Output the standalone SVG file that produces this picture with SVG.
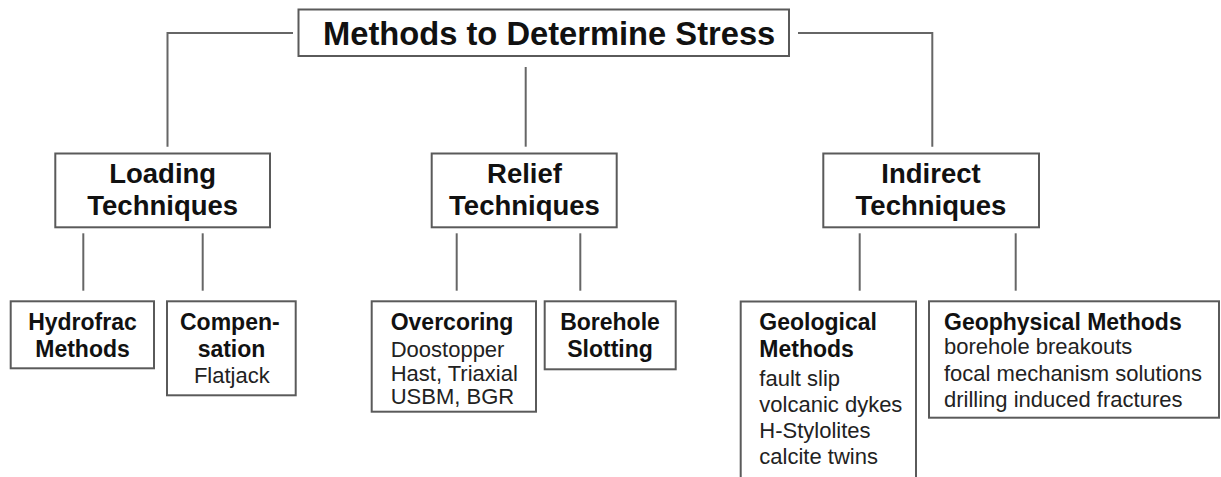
<svg xmlns="http://www.w3.org/2000/svg" width="1221" height="477" viewBox="0 0 1221 477">
<style>
.box{fill:#fff;stroke:#5a5a5a;stroke-width:2}
.ln{fill:none;stroke:#666;stroke-width:2}
.t{font-family:"Liberation Sans",Arial,sans-serif;fill:#111}
.h1{font-size:32.7px;font-weight:bold}
.h2{font-size:27.5px;font-weight:bold;text-anchor:middle}
.b{font-size:23px;font-weight:bold}
.r{font-size:22px;fill:#222}
.c{text-anchor:middle}
</style>
<rect width="1221" height="477" fill="#fff"/>
<g id="connectors">
<polyline class="ln" points="293,33 167.5,33 167.5,146.7"/>
<polyline class="ln" points="798,33 932.3,33 932.3,146.7"/>
<line class="ln" x1="525.7" y1="67" x2="525.7" y2="146.7"/>
<line class="ln" x1="83.3" y1="233.3" x2="83.3" y2="290.7"/>
<line class="ln" x1="202.7" y1="233.3" x2="202.7" y2="290.7"/>
<line class="ln" x1="456.7" y1="233.3" x2="456.7" y2="290.7"/>
<line class="ln" x1="580.3" y1="233.3" x2="580.3" y2="290.7"/>
<line class="ln" x1="859.7" y1="233.3" x2="859.7" y2="290.7"/>
<line class="ln" x1="1015.7" y1="233.3" x2="1015.7" y2="290.7"/>
</g>
<g id="root">
<rect class="box" x="298.5" y="9.5" width="490.5" height="46.5"/>
<text class="t h1" x="323" y="45">Methods to Determine Stress</text>
</g>
<g id="loading">
<rect class="box" x="55.3" y="153.5" width="214.7" height="73.8"/>
<text class="t h2" x="162.7" y="182.7">Loading</text>
<text class="t h2" x="162.7" y="215">Techniques</text>
</g>
<g id="relief">
<rect class="box" x="431.7" y="153.5" width="185" height="73.8"/>
<text class="t h2" x="524.5" y="182.7">Relief</text>
<text class="t h2" x="524.5" y="215">Techniques</text>
</g>
<g id="indirect">
<rect class="box" x="823.3" y="153.5" width="215.7" height="73.8"/>
<text class="t h2" x="931" y="182.7">Indirect</text>
<text class="t h2" x="931" y="215">Techniques</text>
</g>
<g id="hydrofrac">
<rect class="box" x="10.7" y="301.3" width="143.3" height="67"/>
<text class="t b c" x="82.5" y="330">Hydrofrac</text>
<text class="t b c" x="82.5" y="357.3">Methods</text>
</g>
<g id="compensation">
<rect class="box" x="167" y="301.3" width="128.7" height="94"/>
<text class="t b" x="180" y="330">Compen-</text>
<text class="t b c" x="231.5" y="357.3">sation</text>
<text class="t r c" x="231.8" y="382.7">Flatjack</text>
</g>
<g id="overcoring">
<rect class="box" x="371.7" y="301.3" width="164.3" height="110.4"/>
<text class="t b" x="390.7" y="330">Overcoring</text>
<text class="t r" x="390.7" y="357.3" font-size="23.5">Doostopper</text>
<text class="t r" x="390.7" y="381">Hast, Triaxial</text>
<text class="t r" x="390.7" y="404">USBM, BGR</text>
</g>
<g id="borehole-slotting">
<rect class="box" x="544.7" y="301.3" width="131" height="68"/>
<text class="t b c" x="610" y="330">Borehole</text>
<text class="t b c" x="610" y="357.3">Slotting</text>
</g>
<g id="geological">
<path class="box" d="M740.7,480 V301.5 H916 V480"/>
<text class="t b" x="759.3" y="330">Geological</text>
<text class="t b" x="759.3" y="356.7">Methods</text>
<text class="t r" x="759.3" y="386">fault slip</text>
<text class="t r" x="759.3" y="411.7">volcanic dykes</text>
<text class="t r" x="759.3" y="438.3">H-Stylolites</text>
<text class="t r" x="759.3" y="464.3">calcite twins</text>
</g>
<g id="geophysical">
<rect class="box" x="929" y="301.3" width="290" height="116.4"/>
<text class="t b" x="944" y="330">Geophysical Methods</text>
<text class="t r" x="944" y="354">borehole breakouts</text>
<text class="t r" x="944" y="380.7">focal mechanism solutions</text>
<text class="t r" x="944" y="407.3">drilling induced fractures</text>
</g>
</svg>
